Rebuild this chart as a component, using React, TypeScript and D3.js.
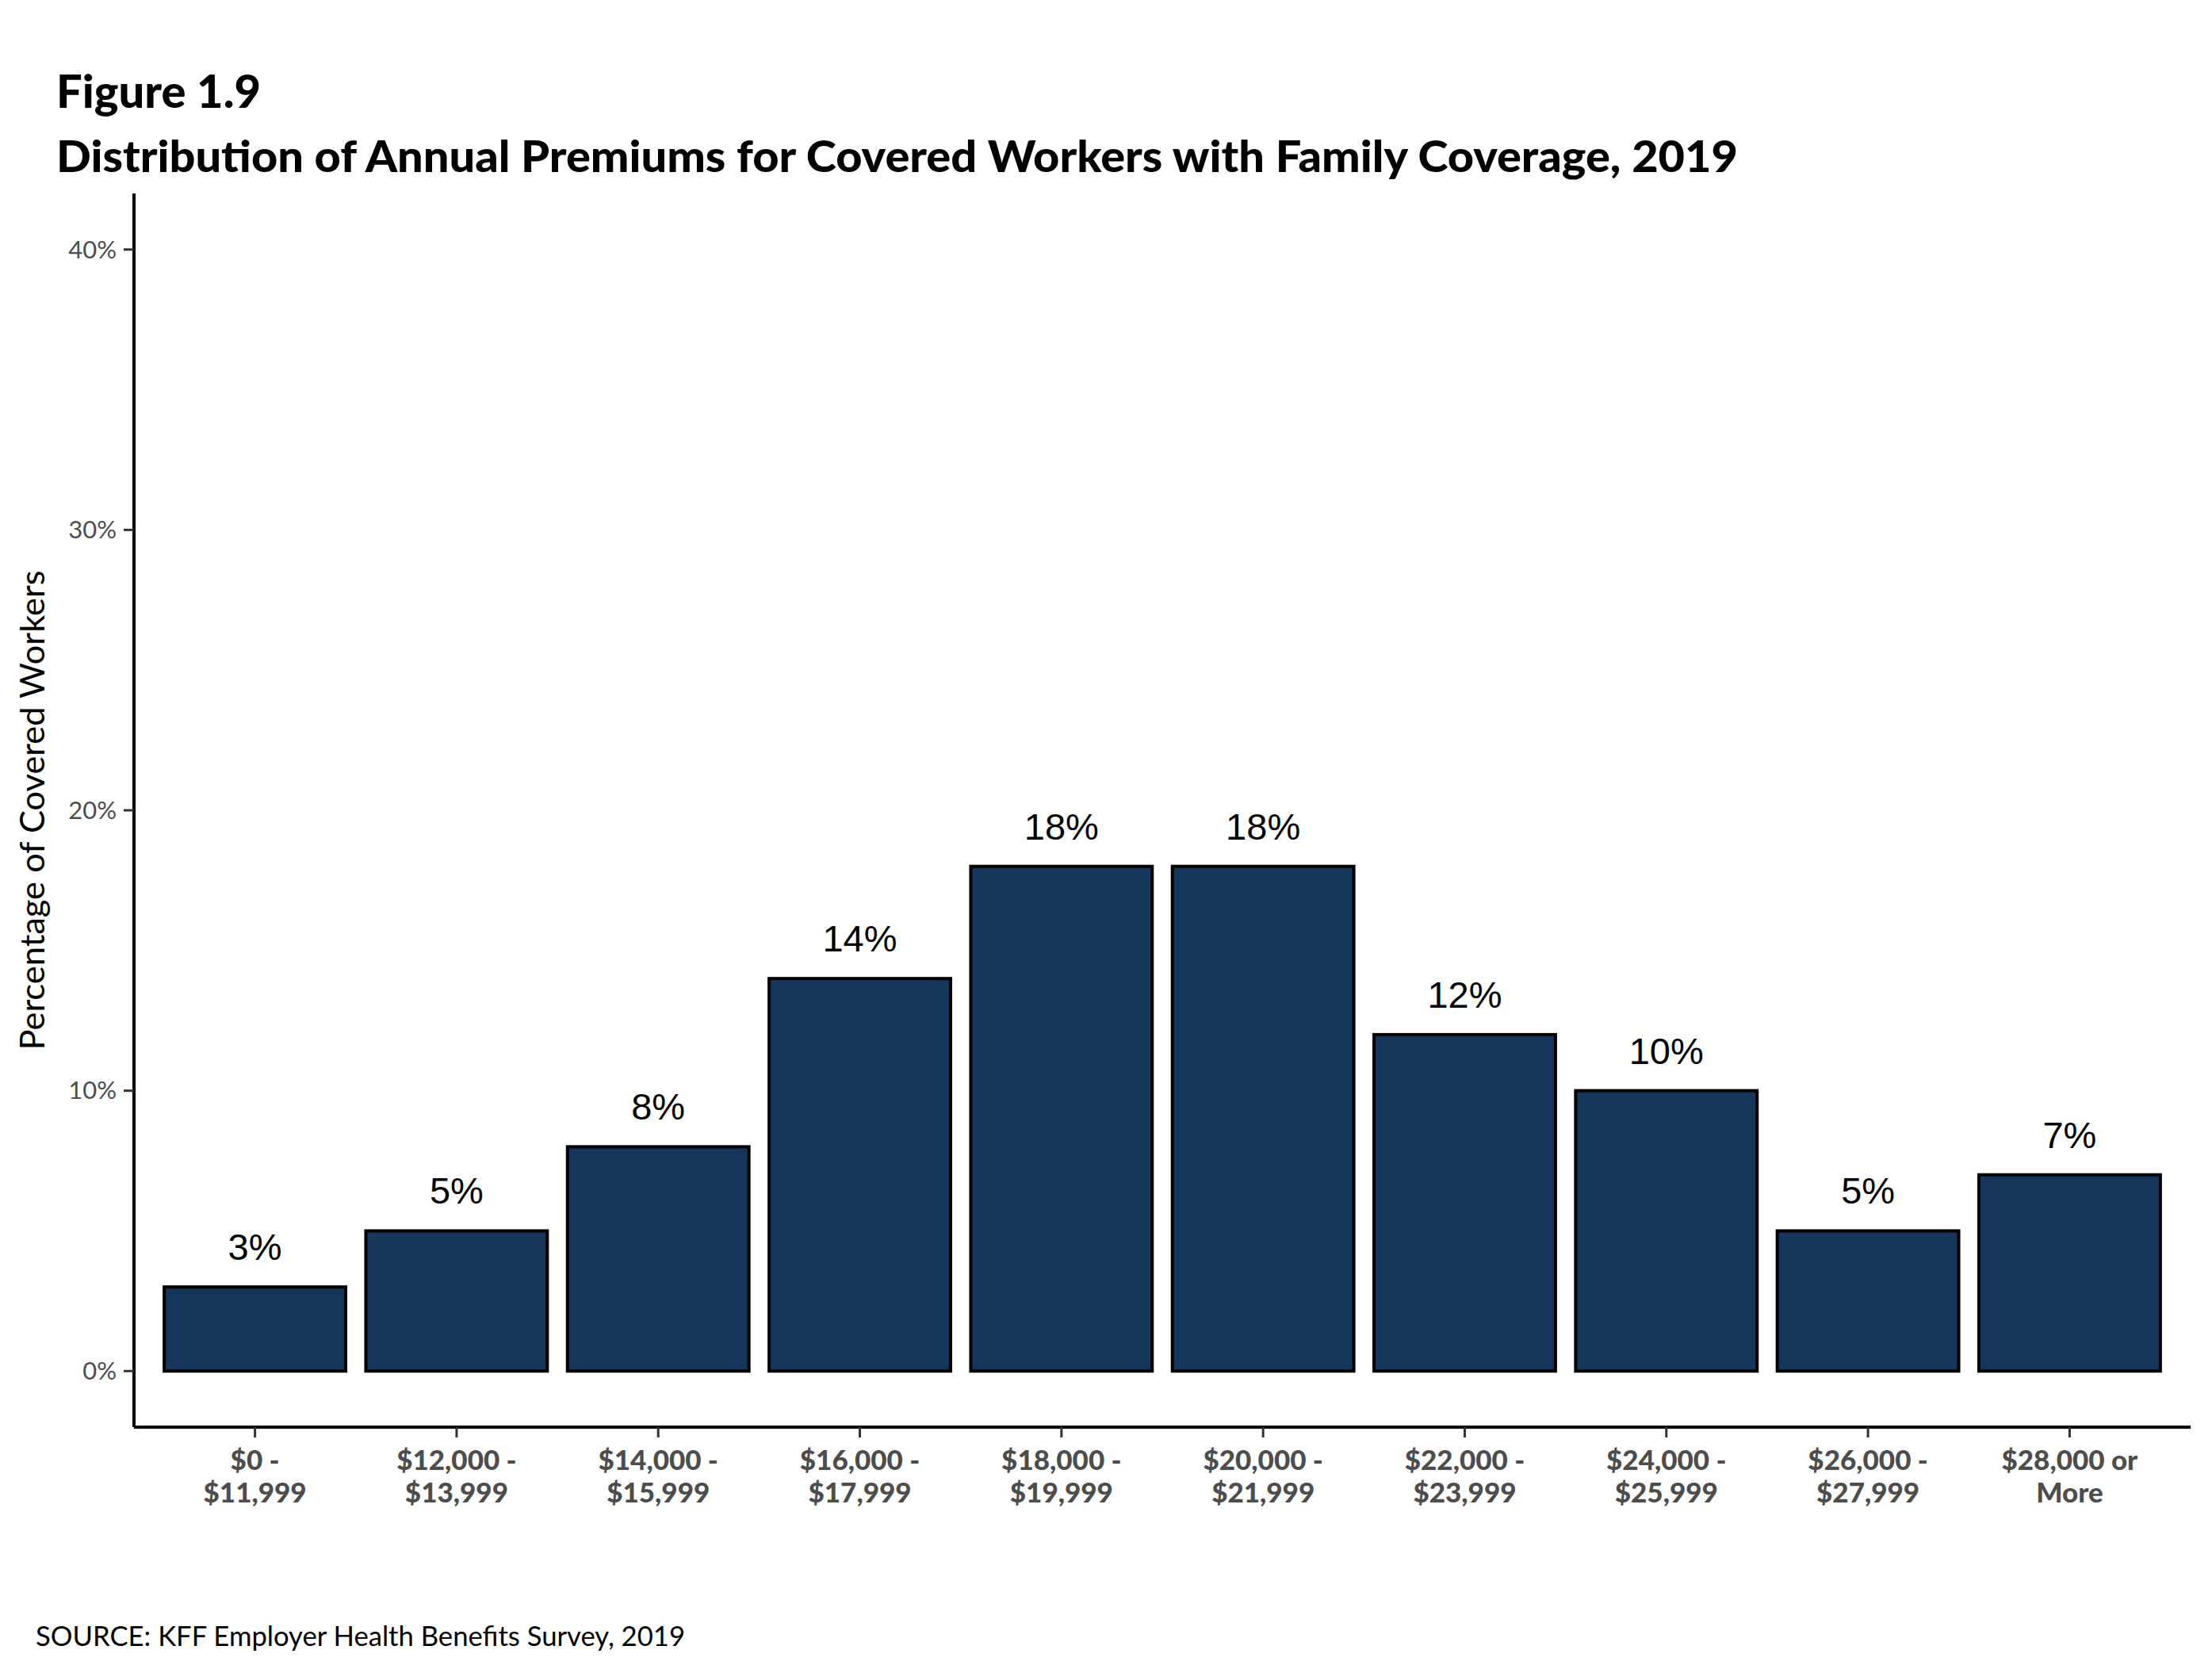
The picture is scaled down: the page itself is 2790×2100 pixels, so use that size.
import React, { useEffect, useRef } from "react";
import * as d3 from "d3";

// premium ranges (two lines per tick label)
const categories = [
  "$0 -|$11,999",
  "$12,000 -|$13,999",
  "$14,000 -|$15,999",
  "$16,000 -|$17,999",
  "$18,000 -|$19,999",
  "$20,000 -|$21,999",
  "$22,000 -|$23,999",
  "$24,000 -|$25,999",
  "$26,000 -|$27,999",
  "$28,000 or|More",
];
const shares = [3, 5, 8, 14, 18, 18, 12, 10, 5, 7];
const yTicks = [0, 10, 20, 30, 40];

const BAR_FILL = "#15355a";

const App = () => {
  const container = useRef<HTMLDivElement>(null);

  useEffect(() => {
    const width = 2790;
    const height = 2100;
    // panel edges
    const left = 169;
    const right = 2763;
    const top = 244;
    const bottom = 1800;

    d3.select(container.current).select("svg").remove();

    const svg = d3
      .select(container.current)
      .append("svg")
      .attr("width", width)
      .attr("height", height)
      .style("position", "absolute")
      .style("left", 0)
      .style("top", 0)
      .style("background", "#fff");

    const x = d3
      .scaleBand()
      .domain(categories)
      .range([left, right])
      .paddingInner(0.1)
      .paddingOuter(0.15);

    const y = d3.scaleLinear().domain([-2, 42]).range([bottom, top]);

    // titles
    svg
      .append("text")
      .attr("x", 71)
      .attr("y", 136)
      .attr("textLength", 258)
      .attr("lengthAdjust", "spacingAndGlyphs")
      .style("font-family", "Lato")
      .style("font-weight", 900)
      .style("font-size", "57px")
      .style("fill", "#000")
      .text("Figure 1.9");

    svg
      .append("text")
      .attr("x", 71)
      .attr("y", 217)
      .attr("textLength", 2121)
      .attr("lengthAdjust", "spacingAndGlyphs")
      .style("font-family", "Lato")
      .style("font-weight", 900)
      .style("font-size", "55px")
      .style("fill", "#000")
      .text(
        "Distribution of Annual Premiums for Covered Workers with Family Coverage, 2019",
      );

    // bars
    svg
      .append("g")
      .selectAll("rect")
      .data(shares)
      .join("rect")
      .attr("x", (_, i) => x(categories[i]) as number)
      .attr("y", (d) => y(d))
      .attr("width", x.bandwidth())
      .attr("height", (d) => y(0) - y(d))
      .style("fill", BAR_FILL)
      .style("stroke", "#000")
      .style("stroke-width", 4);

    // value labels
    svg
      .append("g")
      .selectAll("text")
      .data(shares)
      .join("text")
      .attr("x", (_, i) => (x(categories[i]) as number) + x.bandwidth() / 2)
      .attr("y", (d) => y(d) - 34)
      .attr("text-anchor", "middle")
      .style("font-family", "Liberation Sans, Arial")
      .style("font-size", "47px")
      .style("fill", "#000")
      .text((d) => `${d}%`);

    // y axis
    const yAxis = svg.append("g");
    yAxis
      .append("line")
      .attr("x1", left)
      .attr("x2", left)
      .attr("y1", top)
      .attr("y2", bottom)
      .style("stroke", "#000")
      .style("stroke-width", 4);

    const yTickG = yAxis
      .selectAll("g.tick")
      .data(yTicks)
      .join("g")
      .attr("class", "tick")
      .attr("transform", (d) => `translate(0, ${y(d)})`);
    yTickG
      .append("line")
      .attr("x1", left - 13)
      .attr("x2", left)
      .style("stroke", "#333")
      .style("stroke-width", 3);
    yTickG
      .append("text")
      .attr("x", left - 22)
      .attr("dy", "0.35em")
      .attr("text-anchor", "end")
      .style("font-family", "Lato")
      .style("font-size", "31px")
      .style("fill", "#4d4d4d")
      .text((d) => `${d}%`);

    svg
      .append("text")
      .attr("transform", `translate(56, ${(top + bottom) / 2}) rotate(-90)`)
      .attr("text-anchor", "middle")
      .attr("textLength", 605)
      .attr("lengthAdjust", "spacingAndGlyphs")
      .style("font-family", "Lato")
      .style("font-size", "43px")
      .style("fill", "#000")
      .text("Percentage of Covered Workers");

    // x axis
    const xAxis = svg.append("g");
    xAxis
      .append("line")
      .attr("x1", left)
      .attr("x2", right)
      .attr("y1", bottom)
      .attr("y2", bottom)
      .style("stroke", "#000")
      .style("stroke-width", 4);

    const xTickG = xAxis
      .selectAll("g.tick")
      .data(categories)
      .join("g")
      .attr("class", "tick")
      .attr(
        "transform",
        (d) => `translate(${(x(d) as number) + x.bandwidth() / 2}, 0)`,
      );
    xTickG
      .append("line")
      .attr("y1", bottom)
      .attr("y2", bottom + 13)
      .style("stroke", "#333")
      .style("stroke-width", 3);
    const tickText = xTickG
      .append("text")
      .attr("text-anchor", "middle")
      .style("font-family", "Lato")
      .style("font-weight", 900)
      .style("font-size", "35px")
      .style("fill", "#4d4d4d");
    tickText.each(function (d) {
      const lines = d.split("|");
      d3.select(this)
        .selectAll("tspan")
        .data(lines)
        .join("tspan")
        .attr("x", 0)
        .attr("y", (_, i) => bottom + 54 + i * 41)
        .text((l) => l);
    });

    // source note
    svg
      .append("text")
      .attr("x", 45)
      .attr("y", 2076)
      .attr("textLength", 819)
      .attr("lengthAdjust", "spacingAndGlyphs")
      .style("font-family", "Lato")
      .style("font-size", "34px")
      .style("fill", "#000")
      .text("SOURCE: KFF Employer Health Benefits Survey, 2019");

    return () => {
      d3.select(container.current).select("svg").remove();
    };
  }, []);

  return <div ref={container}></div>;
};

export default App;
